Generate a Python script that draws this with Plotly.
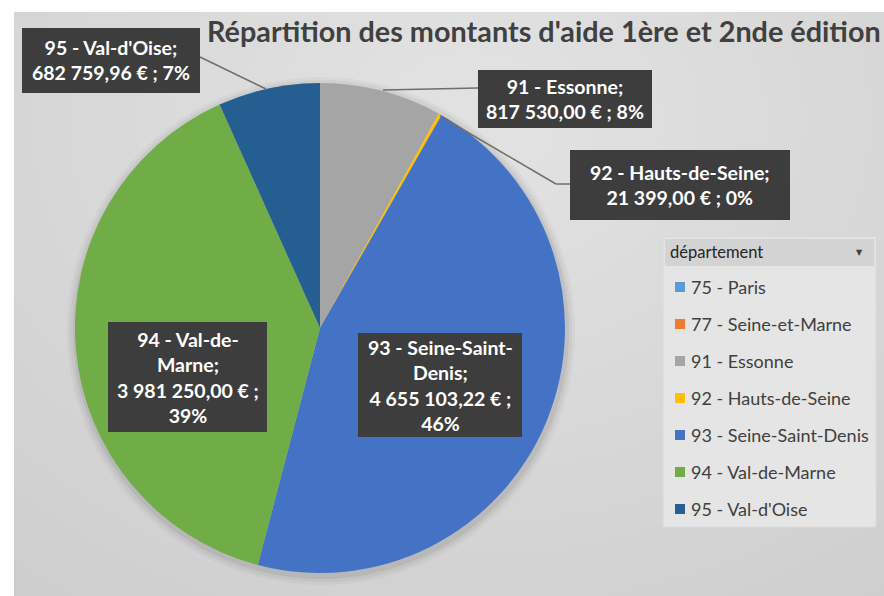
import plotly.graph_objects as go

# ---------------- data ----------------
labels = ["75 - Paris", "77 - Seine-et-Marne", "91 - Essonne", "92 - Hauts-de-Seine",
          "93 - Seine-Saint-Denis", "94 - Val-de-Marne", "95 - Val-d'Oise"]
values = [0.0, 0.0, 817530.00, 21399.00, 4655103.22, 3981250.00, 682759.96]
colors = ["#5B9BD5", "#ED7D31", "#A5A5A5", "#FFC000", "#4472C4", "#70AD47", "#255E91"]
title_text = "Répartition des montants d'aide 1ère et 2nde édition"
legend_title = "département"

W, H = 884, 596


def px(x):
    return x / W


def py(y):
    return 1 - y / H


def fr(v):
    return f"{v:,.2f}".replace(",", " ").replace(".", ",")


total = sum(values)
pcts = [round(v / total * 100) for v in values]

# pie geometry (pixels)
cx, cy, r = 320, 328, 245

fig = go.Figure()
fig.add_trace(go.Pie(
    labels=labels, values=values, sort=False, direction="clockwise", rotation=0,
    marker=dict(colors=colors, line=dict(width=0)),
    textinfo="none", hoverinfo="label+value+percent", showlegend=False,
    domain=dict(x=[px(cx - r), px(cx + r)], y=[py(cy + r), py(cy - r)]),
))

shapes = []
# chart background
shapes.append(dict(type="rect", xref="paper", yref="paper", x0=px(14), x1=px(W + 5),
                   y0=py(H + 5), y1=py(12), fillcolor="#cbcbcb", line=dict(width=0), layer="below"))
# radial-ish lightening
gx, gy = 470, 120
n = 22
for k in range(n):
    rad = 820 - k * (820 - 90) / (n - 1)
    shapes.append(dict(type="circle", xref="paper", yref="paper",
                       x0=px(gx - rad), x1=px(gx + rad), y0=py(gy + rad * 0.8), y1=py(gy - rad * 0.8),
                       fillcolor="rgba(255,255,255,0.032)", line=dict(width=0), layer="below"))
# re-whiten outer strips
shapes.append(dict(type="rect", xref="paper", yref="paper", x0=0, x1=px(14), y0=0, y1=1,
                   fillcolor="white", line=dict(width=0), layer="below"))
shapes.append(dict(type="rect", xref="paper", yref="paper", x0=0, x1=1, y0=py(12), y1=1,
                   fillcolor="white", line=dict(width=0), layer="below"))
# pie shadow
for dr, op in [(9, 0.03), (6, 0.04), (3, 0.06)]:
    shapes.append(dict(type="circle", xref="paper", yref="paper",
                       x0=px(cx - r - dr + 1), x1=px(cx + r + dr + 1),
                       y0=py(cy + r + dr + 3), y1=py(cy - r - dr + 3),
                       fillcolor=f"rgba(0,0,0,{op})", line=dict(width=0), layer="below"))

annotations = []
annotations.append(dict(text=title_text, x=px(544), y=py(31), xref="paper", yref="paper",
                        showarrow=False, xanchor="center", yanchor="middle",
                        font=dict(family="Lato", size=28.8, color="#404040", weight="bold")))

# data labels: (index, box x0, y0, x1, y1, text lines, leader line points)
lab_fmt = {
    6: ([f"95 - Val-d'Oise;", f"{fr(values[6])} € ; {pcts[6]}%"], (22, 28, 200, 93), [(200, 57), (266, 89)]),
    2: ([f"91 - Essonne;", f"{fr(values[2])} € ; {pcts[2]}%"], (478, 70, 652, 128), [(478, 88), (383, 90)]),
    3: ([f"92 - Hauts-de-Seine;", f"{fr(values[3])} € ; {pcts[3]}%"], (570, 150, 790, 220), [(570, 184), (556, 184), (440, 116)]),
    4: (["93 - Seine-Saint-", "Denis;", f"{fr(values[4])} € ;", f"{pcts[4]}%"], (358, 333, 522, 437), None),
    5: (["94 - Val-de-", "Marne;", f"{fr(values[5])} € ;", f"{pcts[5]}%"], (108, 322, 267, 432), None),
}
for i, (lines, (bx0, by0, bx1, by1), lead) in lab_fmt.items():
    if lead:
        for (ax, ay), (bx, by) in zip(lead[:-1], lead[1:]):
            shapes.append(dict(type="line", xref="paper", yref="paper", x0=px(ax), y0=py(ay),
                               x1=px(bx), y1=py(by), line=dict(color="#6f6f6f", width=1.5), layer="above"))
    shapes.append(dict(type="rect", xref="paper", yref="paper", x0=px(bx0), x1=px(bx1),
                       y0=py(by1), y1=py(by0), fillcolor="#3d3d3d", line=dict(width=0), layer="above"))
    annotations.append(dict(text="<br>".join(lines), x=px((bx0 + bx1) / 2), y=py((by0 + by1) / 2),
                            xref="paper", yref="paper", showarrow=False, xanchor="center", yanchor="middle",
                            align="center",
                            font=dict(family="Lato", size=19.5, color="white", weight="bold")))

# legend (custom, Excel pivot style)
lx0, ly0, lx1, ly1 = 663, 237, 876, 527
shapes.append(dict(type="rect", xref="paper", yref="paper", x0=px(lx0), x1=px(lx1), y0=py(ly1), y1=py(ly0),
                   fillcolor="#e5e5e5", line=dict(color="#dadada", width=1), layer="above"))
shapes.append(dict(type="rect", xref="paper", yref="paper", x0=px(lx0 + 2), x1=px(lx1 - 2), y0=py(266), y1=py(ly0 + 2),
                   fillcolor="#d3d3d3", line=dict(width=0), layer="above"))
annotations.append(dict(text=legend_title, x=px(668), y=py(252), xref="paper", yref="paper",
                        showarrow=False, xanchor="left", yanchor="middle",
                        font=dict(family="Lato", size=16.5, color="#262626")))
annotations.append(dict(text="▼", x=px(859), y=py(253), xref="paper", yref="paper",
                        showarrow=False, xanchor="center", yanchor="middle",
                        font=dict(family="DejaVu Sans", size=8, color="#404040")))
for k, (lab, col) in enumerate(zip(labels, colors)):
    yc = 287 + k * 37
    shapes.append(dict(type="rect", xref="paper", yref="paper", x0=px(675), x1=px(685),
                       y0=py(yc + 5), y1=py(yc - 5), fillcolor=col, line=dict(width=0), layer="above"))
    annotations.append(dict(text=lab, x=px(689), y=py(yc), xref="paper", yref="paper",
                            showarrow=False, xanchor="left", yanchor="middle",
                            font=dict(family="Lato", size=18, color="#404040")))

fig.update_layout(width=W, height=H, margin=dict(l=0, r=0, t=0, b=0),
                  paper_bgcolor="white", plot_bgcolor="white",
                  shapes=shapes, annotations=annotations, showlegend=False)
fig.write_html("out.html")
